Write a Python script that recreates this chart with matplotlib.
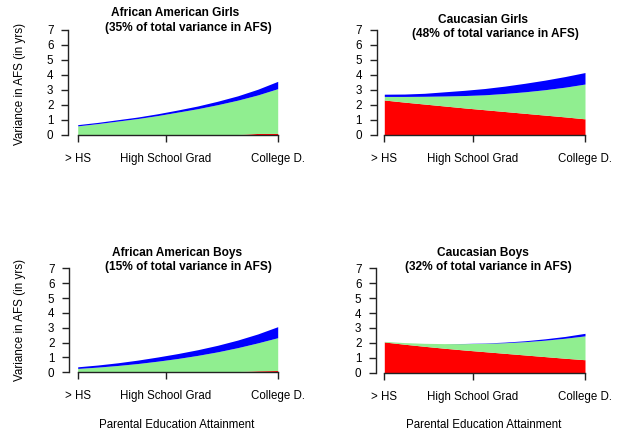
import matplotlib.pyplot as plt

plt.rcParams['font.family'] = ['Liberation Sans', 'DejaVu Sans']

W, H = 618, 434

# points along the parental education scale (0 = > HS, 1 = College D.)
edu_pos = [0.0, 0.1, 0.2, 0.3, 0.4, 0.5, 0.6, 0.7, 0.8, 0.9, 1.0]
tick_pos = [0.0, 0.44, 1.0]
tick_labels = ["> HS", "High School Grad", "College D."]

# cumulative tops of each stacked band (red, red+green, red+green+blue)
aa_girls_red = [0, 0, 0, 0, 0, 0, 0, 0, 0, 0.07, 0.07]
aa_girls_green = [0.58, 0.73, 0.90, 1.07, 1.27, 1.50, 1.73, 2.00, 2.30, 2.65, 3.07]
aa_girls_blue = [0.66, 0.81, 0.99, 1.17, 1.39, 1.64, 1.91, 2.23, 2.59, 3.03, 3.56]

cc_girls_red = [2.31, 2.17, 2.04, 1.91, 1.78, 1.66, 1.54, 1.42, 1.30, 1.18, 1.05]
cc_girls_green = [2.55, 2.55, 2.56, 2.58, 2.61, 2.66, 2.75, 2.86, 3.00, 3.17, 3.38]
cc_girls_blue = [2.70, 2.71, 2.76, 2.86, 2.96, 3.08, 3.24, 3.43, 3.64, 3.88, 4.15]

aa_boys_red = [0, 0, 0, 0, 0, 0, 0, 0.04, 0.05, 0.10, 0.12]
aa_boys_green = [0.26, 0.35, 0.46, 0.59, 0.75, 0.93, 1.14, 1.38, 1.66, 1.98, 2.33]
aa_boys_blue = [0.37, 0.49, 0.64, 0.82, 1.03, 1.26, 1.52, 1.82, 2.17, 2.58, 3.07]

cc_boys_red = [2.06, 1.91, 1.77, 1.64, 1.52, 1.41, 1.30, 1.19, 1.08, 0.97, 0.87]
cc_boys_green = [2.10, 2.02, 1.97, 1.95, 1.95, 1.97, 2.01, 2.08, 2.18, 2.31, 2.47]
cc_boys_blue = [2.10, 2.02, 1.97, 1.95, 1.96, 1.99, 2.05, 2.14, 2.27, 2.43, 2.64]

panels = [
    # title lines, data, axis box in pixels (spine x, x0, x1, y0, y7), title centres
    dict(t1="African American Girls", t2="(35% of total variance in AFS)",
         bands=(aa_girls_red, aa_girls_green, aa_girls_blue),
         box=(68, 77.7, 277.7, 134.5, 30), tpos=((175, 13.3), (188.7, 27.7)),
         ylab=(20, 84), xlab=None),
    dict(t1="Caucasian Girls", t2="(48% of total variance in AFS)",
         bands=(cc_girls_red, cc_girls_green, cc_girls_blue),
         box=(376.7, 384.3, 585, 134.5, 30), tpos=((482.8, 20), (495, 34.3)),
         ylab=None, xlab=None),
    dict(t1="African American Boys", t2="(15% of total variance in AFS)",
         bands=(aa_boys_red, aa_boys_green, aa_boys_blue),
         box=(69, 77.7, 277.7, 372.3, 268.3), tpos=((177.5, 253.3), (188.3, 267.3)),
         ylab=(20, 320), xlab=(176.7, 425)),
    dict(t1="Caucasian Boys", t2="(32% of total variance in AFS)",
         bands=(cc_boys_red, cc_boys_green, cc_boys_blue),
         box=(376, 384.3, 585, 372.7, 268.3), tpos=((483, 253.3), (488.3, 267.3)),
         ylab=None, xlab=(484, 425)),
]

colors = ["#FF0000", "#90EE90", "#0000FF"]
fs = 8.3

fig = plt.figure(figsize=(W / 100, H / 100), dpi=100)

for p in panels:
    L, X0, X1, Y0, Y7 = p["box"]
    pad = (X0 - L) / (X1 - X0)
    R = X1 + (X0 - L)
    ax = fig.add_axes([L / W, 1 - Y0 / H, (R - L) / W, (Y0 - Y7) / H])
    ax.set_xlim(-pad, 1 + pad)
    ax.set_ylim(0, 7)
    ax.patch.set_alpha(0)

    lower = [0] * len(edu_pos)
    for top, c in zip(p["bands"], colors):
        ax.fill_between(edu_pos, lower, top, color=c, lw=0, zorder=2)
        lower = top

    for s in ("top", "right"):
        ax.spines[s].set_visible(False)
    ax.spines["left"].set_bounds(0, 7)
    ax.spines["bottom"].set_bounds(0, 1)
    for s in ("left", "bottom"):
        ax.spines[s].set_linewidth(1.0)
        ax.spines[s].set_color("#222222")
    ax.spines["bottom"].set_zorder(3)

    ax.set_yticks(range(8))
    ax.set_xticks(tick_pos)
    ax.set_xticklabels(tick_labels)
    ax.tick_params(axis="both", direction="out", length=5, width=1,
                   color="#222222", labelsize=fs)
    ax.tick_params(axis="y", pad=5.5, labelsize=8.4)
    ax.tick_params(axis="x", pad=8)

    (a, b), (c, d) = p["tpos"]
    fig.text(a / W, 1 - b / H, p["t1"], ha="center", va="center",
             fontsize=8.6, fontweight="bold")
    fig.text(c / W, 1 - d / H, p["t2"], ha="center", va="center",
             fontsize=8.6, fontweight="bold")
    if p["ylab"]:
        x, y = p["ylab"]
        fig.text(x / W, 1 - y / H, "Variance in AFS (in yrs)", rotation=90,
                 ha="center", va="center", fontsize=8.4)
    if p["xlab"]:
        x, y = p["xlab"]
        fig.text(x / W, 1 - y / H, "Parental Education Attainment",
                 ha="center", va="center", fontsize=fs)

fig.savefig("out.png", dpi=100)
